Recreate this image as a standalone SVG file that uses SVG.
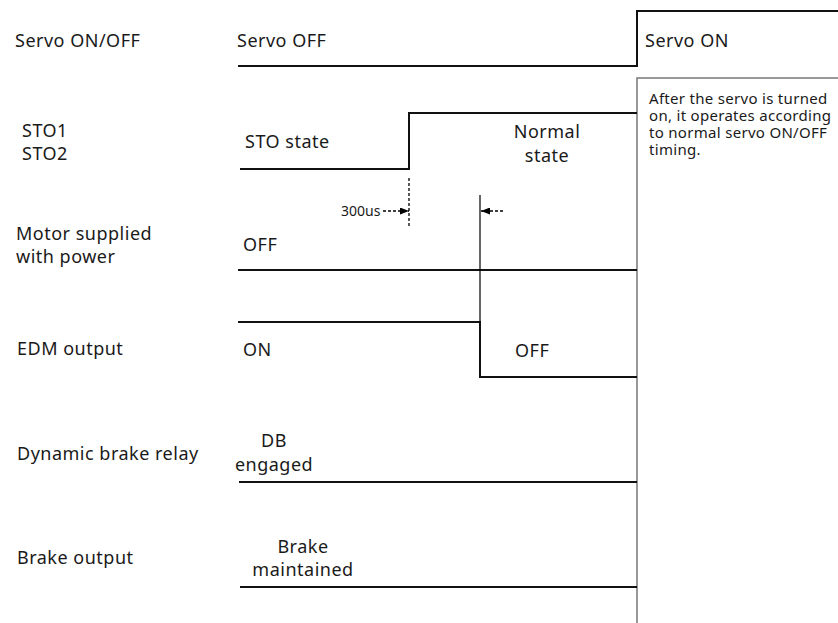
<svg xmlns="http://www.w3.org/2000/svg" width="838" height="623" viewBox="0 0 838 623">
<style>
text{font-family:"Noto Sans","Open Sans","DejaVu Sans",sans-serif;fill:#1a1a1a;}
.lbl{font-size:18px;letter-spacing:0.5px;}
.note{font-size:15px;letter-spacing:0.3px;}
.small{font-size:14px;}
.sig{fill:none;stroke:#111;stroke-width:2;}
.thin{fill:none;stroke:#000;stroke-width:1.2;}
.dash{fill:none;stroke:#000;stroke-width:1.3;stroke-dasharray:3,2;}
</style>
<defs>
<marker id="ah" markerWidth="9" markerHeight="7" refX="9" refY="3.5" orient="auto" markerUnits="userSpaceOnUse">
<path d="M0,0 L9,3.5 L0,7 Z" fill="#000"/>
</marker>
</defs>
<rect width="838" height="623" fill="#fff"/>

<g id="note">
<rect x="637" y="78" width="210" height="560" fill="#fff" stroke="#777" stroke-width="1.5"/>
<text class="note" x="649" y="104">After the servo is turned</text>
<text class="note" x="649" y="121">on, it operates according</text>
<text class="note" x="649" y="138">to normal servo ON/OFF</text>
<text class="note" x="649" y="155">timing.</text>
</g>

<g id="labels">
<text class="lbl" x="15" y="47">Servo ON/OFF</text>
<text class="lbl" x="22" y="137">STO1</text>
<text class="lbl" x="22" y="160">STO2</text>
<text class="lbl" x="16" y="240">Motor supplied</text>
<text class="lbl" x="16" y="263">with power</text>
<text class="lbl" x="17" y="355">EDM output</text>
<text class="lbl" x="17" y="460">Dynamic brake relay</text>
<text class="lbl" x="17" y="564">Brake output</text>
</g>

<g id="connectors">
<path id="servo" class="sig" d="M238,66 H637 V11 H838"/>
<path id="sto" class="sig" d="M240,169 H409 V113 H637"/>
<path id="motor" class="sig" d="M238,270 H637"/>
<path id="edm" class="sig" d="M238,322 H480 V377 H637"/>
<path id="db" class="sig" d="M239,482 H637"/>
<path id="brake" class="sig" d="M240,587 H637"/>
<line class="dash" x1="409" y1="178" x2="409" y2="227" stroke-dasharray="2,1" stroke-width="1.8"/>
<line class="thin" x1="480" y1="195" x2="480" y2="322"/>
<line class="dash" x1="383" y1="211" x2="409" y2="211" marker-end="url(#ah)"/>
<line class="dash" x1="503" y1="211" x2="481" y2="211" marker-end="url(#ah)"/>
</g>

<g id="states">
<text class="lbl" x="237" y="47">Servo OFF</text>
<text class="lbl" x="645" y="47">Servo ON</text>
<text class="lbl" x="245" y="148">STO state</text>
<text class="lbl" x="547" y="138" text-anchor="middle">Normal</text>
<text class="lbl" x="547" y="162" text-anchor="middle">state</text>
<text class="small" x="341" y="216">300us</text>
<text class="lbl" x="243" y="251">OFF</text>
<text class="lbl" x="243" y="356">ON</text>
<text class="lbl" x="515" y="357">OFF</text>
<text class="lbl" x="274" y="447" text-anchor="middle">DB</text>
<text class="lbl" x="274" y="471" text-anchor="middle">engaged</text>
<text class="lbl" x="303" y="553" text-anchor="middle">Brake</text>
<text class="lbl" x="303" y="576" text-anchor="middle">maintained</text>
</g>
</svg>
